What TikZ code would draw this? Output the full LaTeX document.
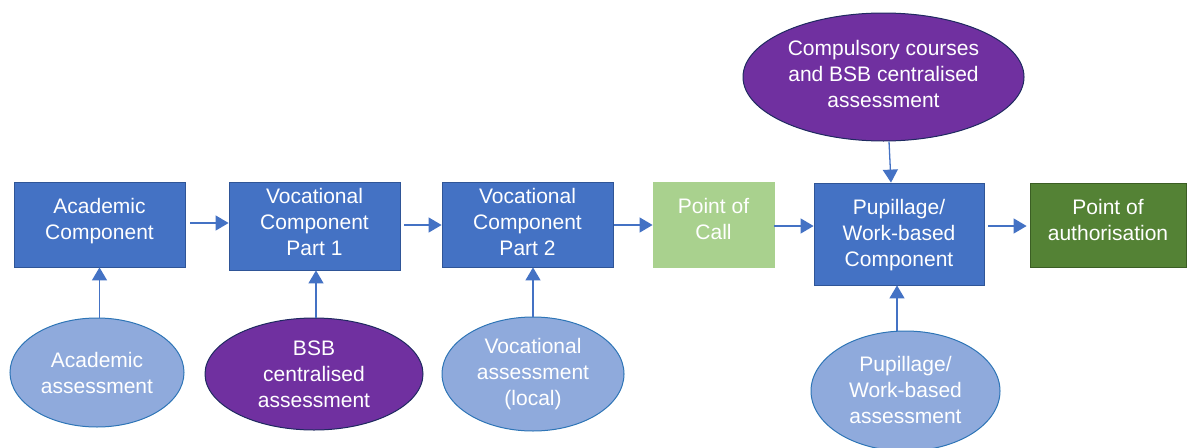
\documentclass[tikz,border=0pt]{standalone}
\usepackage{fontspec}
\setmainfont{Liberation Sans}
\usetikzlibrary{shapes.geometric,arrows.meta}
\definecolor{boxblue}{HTML}{4472C4}
\definecolor{boxblueline}{HTML}{2F5597}
\definecolor{lightblue}{HTML}{8FAADC}
\definecolor{lightblueline}{HTML}{2E75B6}
\definecolor{purp}{HTML}{7030A0}
\definecolor{purpline}{HTML}{1F2A60}
\definecolor{lgreen}{HTML}{A9D18E}
\definecolor{dgreen}{HTML}{548235}
\definecolor{dgreenline}{HTML}{3B5E24}
\tikzset{
  lbl/.style={text=white, align=center, font=\fontsize{21}{26}\selectfont, inner sep=0pt},
  boxlbl/.style={lbl, rectangle, text depth=11pt, line width=0.8pt},
  bluebox/.style={boxlbl, fill=boxblue, draw=boxblueline},
  lgbox/.style={boxlbl, fill=lgreen, draw=lgreen},
  dgbox/.style={boxlbl, fill=dgreen, draw=dgreenline},
  lbell/.style={lbl, ellipse, fill=lightblue, draw=lightblueline, line width=1pt},
  puell/.style={lbl, ellipse, fill=purp, draw=purpline, line width=1pt},
  arr/.style={draw=boxblue, line width=1.3pt, -{Triangle[length=13pt,width=15pt]}}
}
\begin{document}
\begin{tikzpicture}[x=1pt,y=-1pt]
\useasboundingbox (0,0) rectangle (1190,447);
% boxes
\node[bluebox, minimum width=171pt, minimum height=85pt] (ac) at (99.5,224.5) {Academic\\Component};
\node[bluebox, minimum width=171pt, minimum height=88pt, text depth=8pt] (vc1) at (314.5,226) {Vocational\\Component\\Part 1};
\node[bluebox, minimum width=171pt, minimum height=85pt, text depth=5pt] (vc2) at (527.5,224.5) {Vocational\\Component\\Part 2};
\node[lgbox, minimum width=121pt, minimum height=85pt] (poc) at (713.5,224.5) {Point of\\Call};
\node[bluebox, minimum width=170pt, minimum height=102pt, text depth=3pt] (pup) at (899,234) {Pupillage/\\Work-based\\Component};
\node[dgbox, minimum width=156pt, minimum height=84pt] (poa) at (1108,225) {Point of\\authorisation};
% ellipses
\node[lbell, minimum width=174pt, minimum height=109pt] (aa) at (97,372.5) {Academic\\assessment};
\node[puell, minimum width=218pt, minimum height=112pt] (bsb) at (314,374) {BSB\\centralised\\assessment};
\node[lbell, minimum width=182pt, minimum height=114pt] (va) at (533,374) {Vocational\\assessment\\(local)};
\node[puell, minimum width=281pt, minimum height=128pt, text depth=7pt] (comp) at (883.5,77) {Compulsory courses\\and BSB centralised\\assessment};
\node[lbell, minimum width=189pt, minimum height=120pt, text depth=2pt] (pa) at (905.5,391) {Pupillage/\\Work-based\\assessment};
% horizontal arrows
\draw[arr, shorten <=5pt] ([yshift=1.5pt]ac.east) -- ([yshift=1.5pt]ac.east -| vc1.west);
\draw[arr, shorten <=4pt] ([yshift=1pt]vc1.east) -- ([yshift=1pt]vc1.east -| vc2.west);
\draw[arr, shorten <=1pt] ([yshift=-0.5pt]vc2.east) -- ([yshift=-0.5pt]vc2.east -| poc.west);
\draw[arr] ([yshift=-1.5pt]poc.east) -- ([yshift=-1.5pt]poc.east -| pup.west);
\draw[arr, shorten <=4pt, shorten >=3pt] ([yshift=8pt]pup.east) -- ([yshift=8pt]pup.east -| poa.west);
% vertical arrows
\draw[arr] (ac.south |- aa.north) -- (ac.south);
\draw[arr] ([xshift=1.5pt]vc1.south |- bsb.north) -- ([xshift=1.5pt]vc1.south);
\draw[arr] (va.north) -- (va.north |- vc2.south);
\draw[arr] ([xshift=-2pt]pup.south |- pa.north) -- ([xshift=-2pt]pup.south);
\draw[arr] ([xshift=5.5pt]comp.south) -- ([xshift=-8pt]pup.north);
\end{tikzpicture}
\end{document}
